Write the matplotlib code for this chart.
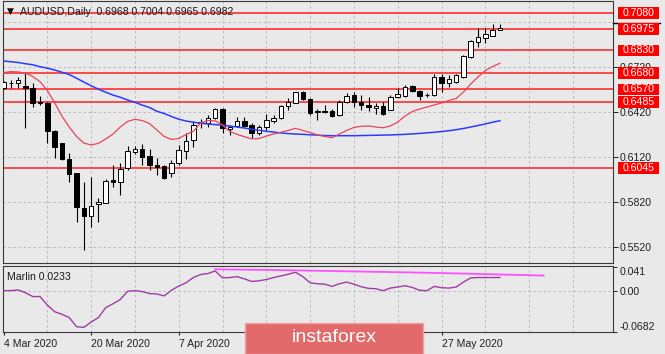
import matplotlib
matplotlib.use('Agg')
import matplotlib.pyplot as plt
from matplotlib.patches import Rectangle
import numpy as np

plt.rcParams['font.family'] = ['Liberation Sans', 'DejaVu Sans']

title_text = "AUDUSD,Daily  0.6968 0.7004 0.6965 0.6982"
indicator_text = "Marlin 0.0233"

opens = [0.6578, 0.6615, 0.6611, 0.6593, 0.6578, 0.6489, 0.6482, 0.6296, 0.6211, 0.6105,
         0.6011, 0.5782, 0.5729, 0.5805, 0.5816, 0.5967, 0.5956, 0.6045, 0.6156, 0.6173,
         0.6127, 0.6067, 0.6060, 0.6011, 0.6078, 0.6162, 0.6233, 0.6352, 0.6344, 0.6378,
         0.6438, 0.6304, 0.6327, 0.6362, 0.6330, 0.6282, 0.6322, 0.6362, 0.6378, 0.6460,
         0.6482, 0.6551, 0.6505, 0.6424, 0.6429, 0.6429, 0.6400, 0.6485, 0.6533, 0.6489,
         0.6467, 0.6445, 0.6460, 0.6433, 0.6518, 0.6529, 0.6593, 0.6560, 0.6535, 0.6533,
         0.6650, 0.6616, 0.6622, 0.6650, 0.6789, 0.6889, 0.6911, 0.6929, 0.6968]
highs = [0.6629, 0.6633, 0.6651, 0.6678, 0.6611, 0.6527, 0.6489, 0.6300, 0.6216, 0.6145,
         0.6015, 0.5956, 0.5985, 0.5845, 0.5971, 0.6067, 0.6078, 0.6193, 0.6190, 0.6207,
         0.6171, 0.6111, 0.6067, 0.6100, 0.6200, 0.6278, 0.6362, 0.6371, 0.6400, 0.6444,
         0.6444, 0.6333, 0.6389, 0.6389, 0.6349, 0.6333, 0.6407, 0.6400, 0.6469, 0.6511,
         0.6556, 0.6562, 0.6511, 0.6438, 0.6467, 0.6438, 0.6500, 0.6549, 0.6556, 0.6533,
         0.6518, 0.6478, 0.6489, 0.6533, 0.6578, 0.6600, 0.6600, 0.6567, 0.6547, 0.6671,
         0.6671, 0.6667, 0.6671, 0.6800, 0.6900, 0.6978, 0.6982, 0.7005, 0.7004]
lows = [0.6571, 0.6578, 0.6578, 0.6311, 0.6456, 0.6467, 0.6211, 0.6111, 0.6100, 0.5956,
        0.5689, 0.5500, 0.5656, 0.5689, 0.5811, 0.5922, 0.5867, 0.6033, 0.6140, 0.6067,
        0.6033, 0.6000, 0.5971, 0.5989, 0.6067, 0.6104, 0.6184, 0.6311, 0.6322, 0.6371,
        0.6278, 0.6267, 0.6318, 0.6318, 0.6244, 0.6267, 0.6300, 0.6349, 0.6371, 0.6433,
        0.6480, 0.6503, 0.6400, 0.6367, 0.6411, 0.6389, 0.6393, 0.6482, 0.6451, 0.6433,
        0.6429, 0.6407, 0.6400, 0.6432, 0.6511, 0.6522, 0.6551, 0.6500, 0.6520, 0.6529,
        0.6556, 0.6589, 0.6611, 0.6644, 0.6782, 0.6851, 0.6878, 0.6928, 0.6965]
closes = [0.6622, 0.6616, 0.6633, 0.6578, 0.6482, 0.6478, 0.6296, 0.6185, 0.6105, 0.6007,
          0.5785, 0.5729, 0.5796, 0.5818, 0.5962, 0.5951, 0.6040, 0.6162, 0.6170, 0.6118,
          0.6067, 0.6056, 0.5978, 0.6082, 0.6167, 0.6229, 0.6333, 0.6348, 0.6378, 0.6438,
          0.6311, 0.6322, 0.6362, 0.6327, 0.6278, 0.6318, 0.6367, 0.6382, 0.6460, 0.6489,
          0.6551, 0.6505, 0.6411, 0.6421, 0.6420, 0.6393, 0.6489, 0.6527, 0.6489, 0.6467,
          0.6451, 0.6460, 0.6407, 0.6522, 0.6538, 0.6589, 0.6560, 0.6529, 0.6533, 0.6650,
          0.6611, 0.6638, 0.6667, 0.6796, 0.6893, 0.6918, 0.6940, 0.6967, 0.6982]

ma_slow = [0.6760, 0.6755, 0.6750, 0.6742, 0.6735, 0.6722, 0.6712, 0.6700, 0.6685, 0.6670,
           0.6645, 0.6620, 0.6595, 0.6572, 0.6552, 0.6533, 0.6518, 0.6500, 0.6485, 0.6466,
           0.6450, 0.6425, 0.6410, 0.6390, 0.6372, 0.6360, 0.6352, 0.6345, 0.6340, 0.6336,
           0.6332, 0.6326, 0.6320, 0.6313, 0.6305, 0.6298, 0.6292, 0.6286, 0.6280, 0.6276,
           0.6273, 0.6271, 0.6268, 0.6266, 0.6263, 0.6262, 0.6262, 0.6262, 0.6262, 0.6263,
           0.6264, 0.6265, 0.6266, 0.6267, 0.6269, 0.6271, 0.6274, 0.6277, 0.6281, 0.6285,
           0.6290, 0.6295, 0.6302, 0.6310, 0.6320, 0.6330, 0.6340, 0.6352, 0.6362]
ma_fast = [0.6683, 0.6689, 0.6687, 0.6680, 0.6657, 0.6622, 0.6563, 0.6482, 0.6393, 0.6320,
           0.6257, 0.6213, 0.6200, 0.6211, 0.6240, 0.6273, 0.6320, 0.6357, 0.6371, 0.6363,
           0.6343, 0.6300, 0.6257, 0.6237, 0.6243, 0.6270, 0.6291, 0.6347, 0.6363, 0.6361,
           0.6333, 0.6290, 0.6271, 0.6255, 0.6241, 0.6243, 0.6260, 0.6273, 0.6285, 0.6297,
           0.6311, 0.6297, 0.6283, 0.6267, 0.6257, 0.6249, 0.6273, 0.6297, 0.6317, 0.6325,
           0.6327, 0.6320, 0.6315, 0.6327, 0.6353, 0.6393, 0.6423, 0.6440, 0.6453, 0.6467,
           0.6480, 0.6497, 0.6510, 0.6553, 0.6607, 0.6653, 0.6697, 0.6723, 0.6745]

levels = [0.7080, 0.6975, 0.6830, 0.6680, 0.6570, 0.6485, 0.6045]
price_ticks = [0.5520, 0.5820, 0.6120, 0.6420, 0.6720]
grid_prices = [0.5520, 0.5820, 0.6120, 0.6420, 0.6720, 0.7020]
bid_marker = 0.7016

marlin = [0.0012, 0.0012, 0.0023, -0.0022, -0.0088, -0.0088, -0.0231, -0.0342, -0.0386, -0.0441,
          -0.0595, -0.0606, -0.0518, -0.0441, -0.0275, -0.0209, -0.0137, 0.0001, 0.0012, -0.0004,
          -0.0038, -0.0044, -0.0077, 0.0017, 0.0089, 0.0144, 0.0232, 0.0282, 0.0299, 0.0343,
          0.0226, 0.0232, 0.0248, 0.0210, 0.0166, 0.0177, 0.0199, 0.0232, 0.0259, 0.0287,
          0.0320, 0.0248, 0.0143, 0.0127, 0.0121, 0.0083, 0.0127, 0.0155, 0.0121, 0.0077,
          0.0050, 0.0044, 0.0011, 0.0055, 0.0072, 0.0094, 0.0066, 0.0017, 0.0011, 0.0083,
          0.0061, 0.0055, 0.0072, 0.0155, 0.0226, 0.0232, 0.0232, 0.0232, 0.0233]
signal_idx = [29, 37, 47, 57, 65, 74]
signal_vals = [0.0370, 0.0359, 0.0337, 0.0315, 0.0293, 0.0265]
marlin_ticks = [0.041, 0.0, -0.0682]
marlin_ticklabels = ['0.041', '0.00', '-0.0682']

date_idx = [0, 12, 24, 60]
date_labels = ['4 Mar 2020', '20 Mar 2020', '7 Apr 2020', '27 May 2020']

# ---------------- layout ----------------
W, H = 665, 354
BG = '#e9e9e9'
fig = plt.figure(figsize=(W / 100, H / 100), dpi=100)
fig.patch.set_facecolor(BG)


def px_axes(l, t, r, b):
    return fig.add_axes([l / W, 1 - b / H, (r - l) / W, (b - t) / H])


AX_L, AX_R = 2.5, 613
ax = px_axes(AX_L, 1, AX_R, 263.3)
ax2 = px_axes(AX_L, 266, AX_R, 332)
axw = AX_R - AX_L
XLIM = (-0.137, 83.49)
FS = 7.6
grid_kw = dict(color='#b4b4b4', lw=0.6, ls=(0, (3, 3)), zorder=1)

for a in (ax, ax2):
    a.set_facecolor(BG)
    a.set_xlim(*XLIM)
    for s in a.spines.values():
        s.set_color('#3a3a3a')
        s.set_linewidth(0.8)
    for gx in range(6, 84, 6):
        a.axvline(gx, **grid_kw)

# ---------------- main price panel ----------------
ax.set_ylim(0.54113, 0.7160)
for gp in grid_prices:
    ax.axhline(gp, **grid_kw)
for lv in levels:
    ax.axhline(lv, color='#ff2020', lw=1.1, zorder=2)

x = np.arange(len(opens))
o = np.array(opens); c = np.array(closes)
ax.vlines(x, lows, highs, color='black', lw=0.8, zorder=3)
up = c >= o
body_bot = np.minimum(o, c)
body_h = np.maximum(np.abs(c - o), 0.00015)
ax.bar(x, body_h, bottom=body_bot, width=0.62,
       color=['white' if u else 'black' for u in up],
       edgecolor='black', linewidth=0.7, zorder=4)

ax.plot(x, ma_slow, color='#2b3cff', lw=1.1, zorder=5)
ax.plot(x, ma_fast, color='#e8445e', lw=0.9, zorder=5)

ax.set_xticks([])
ax.yaxis.tick_right()
ax.set_yticks(price_ticks)
ax.set_yticklabels([f'{p:.4f}' for p in price_ticks])
ax.tick_params(axis='y', direction='out', length=3.6, width=0.7, pad=1.5,
               labelsize=FS, colors='#202020')

ytr = ax.get_yaxis_transform()
ax.plot([1, 1 + 47 / axw], [bid_marker, bid_marker], transform=ytr,
        color='black', lw=1.0, clip_on=False, zorder=9)
for lv in levels:
    ax.add_patch(Rectangle((1 + 5.3 / axw, lv - 0.0039), 41 / axw, 0.0078,
                           transform=ytr, facecolor='#ff0000', edgecolor='none',
                           clip_on=False, zorder=10))
    ax.text(1 + 25.8 / axw, lv, f'{lv:.4f}', transform=ytr, color='white',
            ha='center', va='center', fontsize=FS, zorder=11, clip_on=False)

fig.text(7 / W, 1 - 11.5 / H, '\u25bc', fontsize=6.5, ha='left', va='center',
         color='#101010', family=['DejaVu Sans'])
fig.text(20 / W, 1 - 12 / H, title_text, fontsize=FS, ha='left', va='center',
         color='#1a1a1a')

# ---------------- indicator panel ----------------
ax2.set_ylim(-0.0684, 0.0426)
ax2.axhline(0.0, **grid_kw)
ax2.plot(np.arange(len(marlin)), marlin, color='#a03ca6', lw=1.0, zorder=4)
ax2.plot(signal_idx, signal_vals, color='#ff50ff', lw=1.3, zorder=4)
ax2.yaxis.tick_right()
ax2.set_yticks(marlin_ticks)
ax2.set_yticklabels(marlin_ticklabels)
ax2.tick_params(axis='y', direction='out', length=3.0, width=0.7, pad=1.5,
                labelsize=FS, colors='#202020')
ylabs = ax2.get_yticklabels()
ylabs[0].set_va('top')
ylabs[2].set_va('bottom')
ax2.set_xticks(date_idx)
ax2.set_xticklabels(date_labels, ha='left')
ax2.tick_params(axis='x', direction='out', length=2.5, width=0.8, pad=2.5,
                labelsize=FS, colors='#202020')
fig.text(6.7 / W, 1 - 277 / H, indicator_text, fontsize=FS, ha='left',
         va='center', color='#1a1a1a')

# ---------------- watermark ----------------
fig.add_artist(Rectangle((245 / W, 0), (423 - 245) / W, (354 - 323) / H,
                         transform=fig.transFigure, facecolor='#e26a6a',
                         edgecolor='#f0a0a0', lw=1.0, zorder=20))
fig.text(334 / W, 1 - 338 / H, 'instaforex', fontsize=14, color='white',
         ha='center', va='center', zorder=21)

fig.savefig('out.png', dpi=100, facecolor=BG)
